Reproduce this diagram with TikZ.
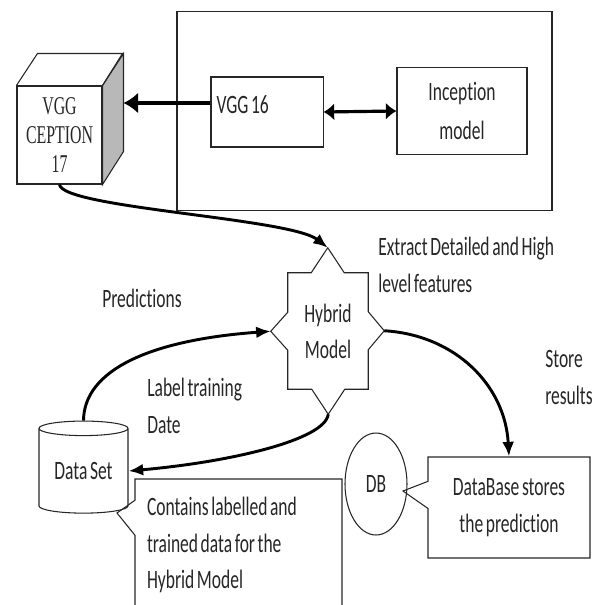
\documentclass[tikz,border=0pt]{standalone}
\usepackage{fontspec}
\setmainfont{Carlito}[FakeStretch=0.66,WordSpace=0.66,Ligatures=NoCommon]
\newfontfamily\cubefont{Liberation Serif}[FakeStretch=0.62,WordSpace=0.62]
\usetikzlibrary{arrows.meta,shapes.geometric,shapes.callouts,calc}

\begin{document}
\begin{tikzpicture}[x=0.0265cm,y=-0.0265cm]
% text, box and arrow styles
\tikzstyle{txt}=[font=\fontsize{20}{27.8}\selectfont,text=black!85,inner sep=0pt]
\tikzstyle{box}=[txt,draw=black!85,line width=0.8pt,rectangle]
\tikzstyle{flow}=[line width=2.2pt,-{Latex[length=11pt,width=9pt]}]
\tikzstyle{bigflow}=[line width=3.6pt,-{Latex[length=11pt,width=16pt]}]
\tikzstyle{twoway}=[line width=2.4pt,{Latex[length=8pt,width=13pt]}-{Latex[length=8pt,width=13pt]}]

\useasboundingbox (0,0) rectangle (598,605);
\clip (0,0) rectangle (598,605);

% upper frame with the two networks
\node[box,minimum width=9.94cm,minimum height=5.25cm] (frame) at (364.5,111) {};
\node[box,minimum width=2.97cm,minimum height=1.855cm] (vgg16) at (267,112) {};
\node[txt,anchor=west] (vgg16-lbl) at ([shift={(6,-7)}]vgg16.west) {VGG 16};
\node[box,minimum width=3.445cm,minimum height=2.33cm,align=center,
      font=\fontsize{20}{30}\selectfont] (incep) at (462,111) {Inception\\model};

% the cube
\node[box,minimum width=2.2525cm,minimum height=2.597cm,align=center,
      font=\cubefont\fontsize{19.3}{21.8}\selectfont] (vggcep) at (59.5,135) {VGG\\CEPTION\\17};
\draw[line width=0.8pt,draw=black!85,fill=black!28] (vggcep.north east) -- ++(21,-32) -- ++(0,98) -- (vggcep.south east) -- cycle;
\draw[line width=0.8pt,draw=black!85] (vggcep.north west) -- ++(21,-32) -- ++(85,0) -- (vggcep.north east);
\coordinate (cubeback) at ([shift={(21,0)}]vggcep.east);

% hybrid model, a box with a point on each side
\node[txt,minimum width=2.12cm,minimum height=3.074cm,align=center,
      font=\fontsize{20}{27}\selectfont] (hybrid) at (328,331) {Hybrid\\Model};
\draw[line width=0.8pt,draw=black!85] (hybrid.north west) -- ++(23.5,0) -- ++(16.5,-25) coordinate (hybtop)
  -- ++(16.5,25) -- (hybrid.north east) -- ++(0,39) -- ++(16,19) coordinate (hybright)
  -- ++(-16,19) -- (hybrid.south east) -- ++(-23.5,0) -- ++(-16.5,25) coordinate (hybbot)
  -- ++(-16.5,-25) -- (hybrid.south west) -- ++(0,-39) -- ++(-17,-19) coordinate (hybleft)
  -- ++(17,-19) -- cycle;

% storage
\node[box,cylinder,shape border rotate=90,aspect=0.25,minimum width=2.36cm,minimum height=2.44cm] (dataset) at (83.5,471) {Data Set};
\node[box,ellipse,minimum width=1.643cm,minimum height=2.703cm] (db) at (376,484) {DB};

% callouts
\node[box,rectangle callout,callout absolute pointer={(403,491)},callout pointer width=0.72cm,
      minimum width=4.293cm,minimum height=2.6765cm,align=center] (dbox) at (509,507.5) {DataBase stores\\the prediction};
\node[box,rectangle callout,callout absolute pointer={(117,513)},callout pointer width=0.93cm,
      minimum width=5.4855cm,minimum height=3.498cm,text width=4.85cm,align=flush left] (note) at (238.5,545)
      {Contains labelled and\\trained data for the\\Hybrid Model};

% labels
\node[txt,anchor=west,align=left] (extract) at (378,265) {Extract Detailed and High\\level features};
\node[txt] (pred) at (142,298) {Predictions};
\node[txt,anchor=west,align=left] (labeltr) at (147,406) {Label training\\Date};
\node[txt,anchor=west,align=left] (store) at (545,377.5) {Store\\results};

% arrows
\coordinate (vggout) at ([shift={(0,-9)}]vgg16.west);
\draw[bigflow] (vggout) -- (vggout -| cubeback);
\draw[twoway] (vgg16.east) -- (incep.west);
\draw[flow] (vggcep.south) .. controls (62,208) and (290,218) .. (hybtop);
\draw[flow] (dataset.north) .. controls (84,370) and (150,340) .. (hybleft);
\draw[flow] (hybbot) .. controls (325,440) and (230,462) .. (dataset.east);
\draw[flow] (hybright) .. controls (455,335) and (505,385) .. (dbox.north);
\end{tikzpicture}
\end{document}
